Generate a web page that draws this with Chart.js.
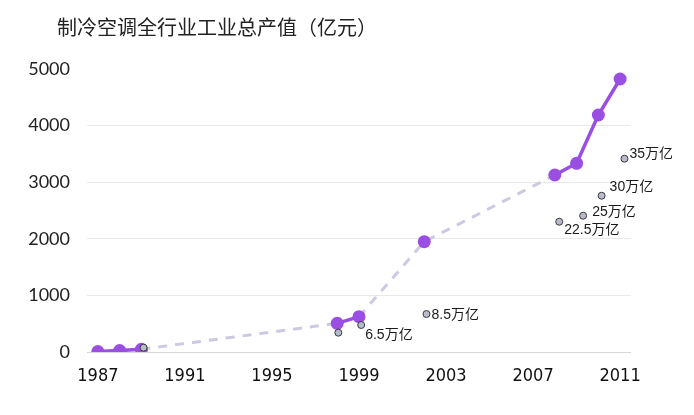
<!DOCTYPE html>
<html>
<head>
<meta charset="utf-8">
<script src="https://cdn.jsdelivr.net/npm/chart.js@4"></script>
<style>
html,body{margin:0;padding:0;background:#fff;}
#wrap{width:694px;height:415px;position:relative;}
</style>
</head>
<body>
<div id="wrap"><canvas id="c" width="694" height="415"></canvas></div>
<script>
// ---- data ----
const chartTitle = '制冷空调全行业工业总产值（亿元）';
const mainYears = [1987, 1988, 1989, 1998, 1999, 2002, 2008, 2009, 2010, 2011];
const mainValues = [8, 25, 48, 507, 624, 1949, 3127, 3334, 4187, 4823];
const refYears = [1989.1, 1998.05, 1999.1, 2002.1, 2008.2, 2009.3, 2010.15, 2011.2];
const refValues = [76, 341, 477, 671, 2302, 2408, 2761, 3415];
const refLabels = ['', '', '6.5万亿', '8.5万亿', '22.5万亿', '25万亿', '30万亿', '35万亿'];
const xTickValues = [1987, 1991, 1995, 1999, 2003, 2007, 2011];
const yTickValues = [0, 1000, 2000, 3000, 4000, 5000];

// ---- style ----
const PURPLE = '#9a4ee2';
const DASH_COLOR = '#cfc8e3';
const labelOffsets = [null, null, [4, 10], [5, 1], [5, 8], [9, -4], [8, -9], [5, -5]];

const labelPlugin = {
  id: 'refLabels',
  afterDatasetsDraw(chart) {
    const meta = chart.getDatasetMeta(0);
    const ctx = chart.ctx;
    ctx.save();
    ctx.font = '14px "Liberation Sans", "Noto Sans CJK SC", sans-serif';
    ctx.fillStyle = '#1a1a1a';
    ctx.textAlign = 'left';
    ctx.textBaseline = 'middle';
    meta.data.forEach((pt, i) => {
      const txt = refLabels[i];
      const off = labelOffsets[i];
      if (!txt || !off) return;
      ctx.fillText(txt, pt.x + off[0], pt.y + off[1]);
    });
    ctx.restore();
  }
};

const titlePlugin = {
  id: 'leftTitle',
  afterDraw(chart) {
    const ctx = chart.ctx;
    ctx.save();
    ctx.font = '20px "Noto Sans CJK SC", sans-serif';
    ctx.fillStyle = '#222';
    ctx.textAlign = 'left';
    ctx.textBaseline = 'middle';
    ctx.fillText(chartTitle, 57, 27);
    ctx.restore();
  }
};

const gapped = (c) => (c.p1.parsed.x - c.p0.parsed.x > 1.5);

new Chart(document.getElementById('c'), {
  type: 'line',
  data: {
    datasets: [
      {
        label: 'ref',
        data: refYears.map((x, i) => ({ x, y: refValues[i] })),
        showLine: false,
        pointRadius: 3.5,
        pointBackgroundColor: '#b7bbca',
        pointBorderColor: '#3a3a44',
        pointBorderWidth: 1,
        order: 0
      },
      {
        label: 'main',
        data: mainYears.map((x, i) => ({ x, y: mainValues[i] })),
        borderColor: PURPLE,
        borderWidth: 3.5,
        pointRadius: 6.5,
        pointBackgroundColor: PURPLE,
        pointBorderColor: PURPLE,
        pointBorderWidth: 0,
        tension: 0,
        segment: {
          borderColor: c => gapped(c) ? DASH_COLOR : PURPLE,
          borderDash: c => gapped(c) ? [9, 8] : undefined,
          borderWidth: c => gapped(c) ? 3 : 3.5
        },
        order: 1
      }
    ]
  },
  options: {
    responsive: false,
    animation: false,
    layout: { padding: { top: 69, right: 63, left: 0, bottom: 0 } },
    plugins: {
      legend: { display: false },
      title: { display: false },
      tooltip: { enabled: false }
    },
    scales: {
      x: {
        type: 'linear',
        min: 1986.5,
        max: 2011.5,
        afterBuildTicks: s => { s.ticks = xTickValues.map(v => ({ value: v })); },
        afterFit: s => { s.height = 63; },
        grid: { display: false },
        border: { display: false },
        ticks: {
          padding: 6,
          color: '#111',
          font: { family: '"Liberation Sans Narrow", "DejaVu Sans Condensed", sans-serif', size: 18 },
          callback: v => String(v)
        }
      },
      y: {
        min: 0,
        max: 5000,
        afterBuildTicks: s => { s.ticks = yTickValues.map(v => ({ value: v })); },
        afterFit: s => { s.width = 87; },
        grid: {
          drawTicks: false,
          color: c => (c.tick && c.tick.value === 5000) ? 'rgba(0,0,0,0)' : (c.tick && c.tick.value === 0 ? '#d6d6d6' : '#e9e9e9'),
          lineWidth: 1
        },
        border: { display: false },
        ticks: {
          padding: 17,
          color: '#222',
          font: { family: 'Lato, "Open Sans", sans-serif', size: 18 },
          callback: v => String(v)
        }
      }
    }
  },
  plugins: [labelPlugin, titlePlugin]
});
</script>
</body>
</html>
